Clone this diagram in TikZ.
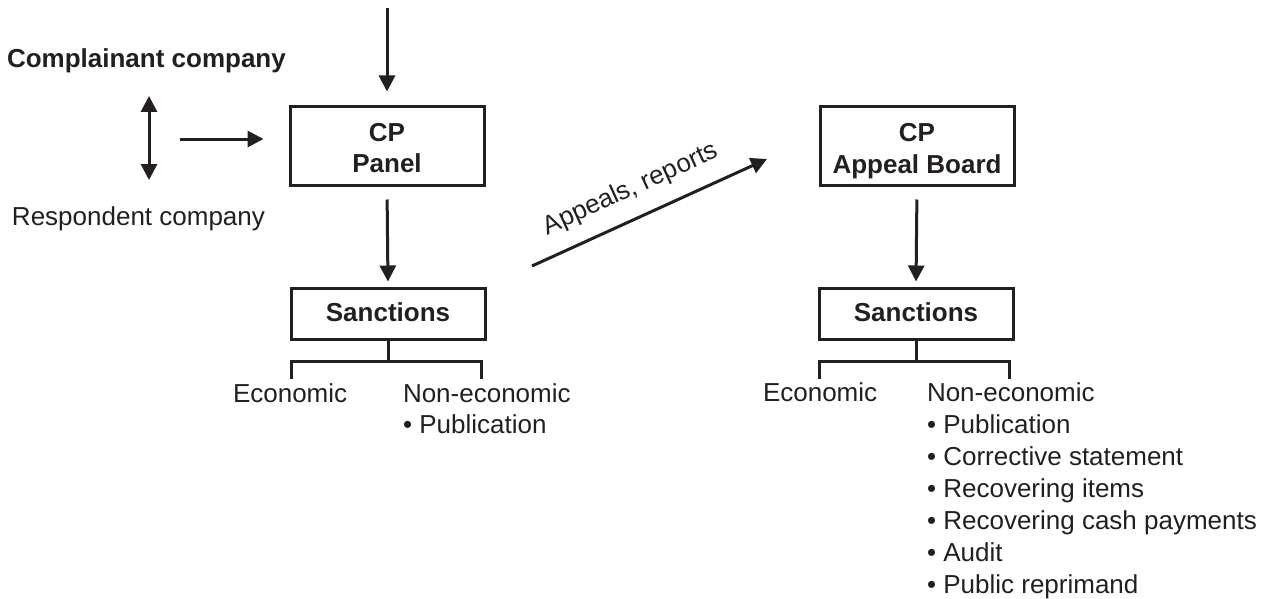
\documentclass[tikz,border=0pt]{standalone}
\usepackage{fontspec}
\setmainfont{Liberation Sans}
\usetikzlibrary{arrows.meta}
\definecolor{ink}{HTML}{231F20}
\tikzset{
  txt/.style={inner sep=0pt, outer sep=0pt, anchor=base west, text=ink, font=\fontsize{26}{32}\selectfont},
  btxt/.style={txt, font=\fontsize{26}{32}\selectfont\bfseries},
  ctxt/.style={btxt, anchor=base},
  boxnode/.style={draw=ink, line width=3pt, inner sep=0pt, minimum width=194pt},
  conn/.style={draw=ink, line width=3pt},
  arr/.style={conn, -{Triangle[length=16pt,width=16pt]}},
  darr/.style={conn, {Triangle[length=16pt,width=16pt]}-{Triangle[length=16pt,width=16pt]}},
}
\begin{document}
\begin{tikzpicture}[x=1pt,y=-1pt]
\useasboundingbox (0,0) rectangle (1265,599);

% left column labels
\node[btxt] (comp) at (7,68) {Complainant company};
\node[txt] (resp) at (12,225) {Respondent company};

% boxes
\node[boxnode, minimum height=78pt] (panel) at (387,146) {};
\node[ctxt] (panel1) at (387,141) {CP};
\node[ctxt] (panel2) at (387,172) {Panel};
\node[boxnode, minimum height=78pt] (board) at (917,146) {};
\node[ctxt] (board1) at (917,142) {CP};
\node[ctxt] (board2) at (917,173) {Appeal Board};
\node[boxnode, minimum height=51pt] (sl) at (388,313.5) {};
\node[ctxt] (sl1) at (388,321) {Sanctions};
\node[boxnode, minimum height=51pt] (sr) at (916,313.5) {};
\node[ctxt] (sr1) at (916,321) {Sanctions};

% coordinates for free ends
\coordinate (topin) at (387,8);
\coordinate (da1) at (149,96);
\coordinate (da2) at (149,180);
\coordinate (hin) at (180,139);
\coordinate (ap1) at (532,266);
\coordinate (ap2) at (767,159);

% arrows
\draw[arr, shorten >=14pt] (topin) -- (panel.north);
\draw[darr] (da1) -- (da2);
\draw[arr, shorten >=25pt] (hin) -- (hin -| panel.west);
\draw[arr, shorten <=13pt, shorten >=5pt] (panel.south) -- (sl.north);
\draw[arr, shorten <=13pt, shorten >=5pt] (board.south) -- (sr.north);
\draw[arr] (ap1) -- node[pos=0.47, above=15pt, sloped, inner sep=0pt, text=ink, font=\fontsize{26}{32}\selectfont] (aplabel) {Appeals, reports} (ap2);

% left tree
\draw[conn] (sl.south) -- (sl.south |- 0,361);
\draw[conn] (291,379) -- (291,361) -- (481,361) -- (481,379);
\node[txt] (le) at (233,402) {Economic};
\node[txt] (ln) at (403,402) {Non-economic};
\node[txt] (lp) at (403,433) {\textbullet\ Publication};

% right tree
\draw[conn] (sr.south) -- (sr.south |- 0,361);
\draw[conn] (819,379) -- (819,361) -- (1009,361) -- (1009,379);
\node[txt] (re) at (763,401) {Economic};
\node[txt] (rn) at (927,401) {Non-economic};
\node[txt] (r1) at (927,433) {\textbullet\ Publication};
\node[txt] (r2) at (927,465) {\textbullet\ Corrective statement};
\node[txt] (r3) at (927,497) {\textbullet\ Recovering items};
\node[txt] (r4) at (927,529) {\textbullet\ Recovering cash payments};
\node[txt] (r5) at (927,561) {\textbullet\ Audit};
\node[txt] (r6) at (927,593) {\textbullet\ Public reprimand};
\end{tikzpicture}
\end{document}
